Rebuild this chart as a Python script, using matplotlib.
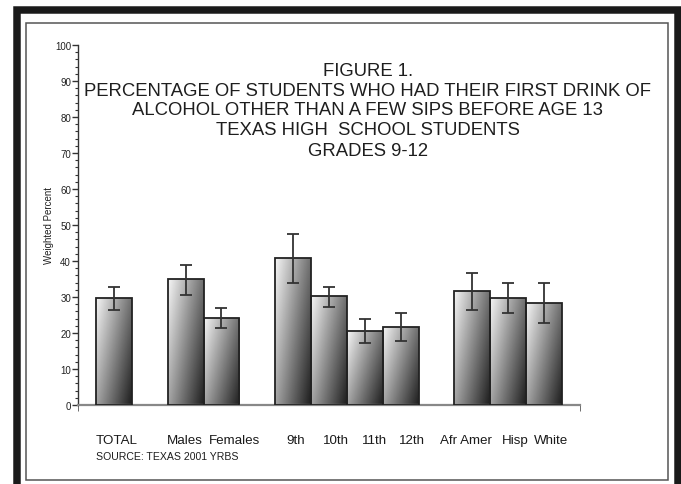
import numpy as np
import matplotlib
matplotlib.use('Agg')
import matplotlib.pyplot as plt
from matplotlib.patches import Rectangle
from matplotlib.ticker import MultipleLocator

plt.rcParams['font.family'] = ['Liberation Sans', 'DejaVu Sans']

# Weighted percent with 95% confidence limits
groups = ['TOTAL', 'Males', 'Females', '9th', '10th', '11th', '12th',
          'Afr Amer', 'Hisp', 'White']
percent = [29.6, 34.9, 24.2, 40.8, 30.2, 20.5, 21.7, 31.6, 29.7, 28.3]
lower = [26.4, 30.6, 21.3, 34.0, 27.1, 17.1, 17.9, 26.5, 25.6, 22.9]
upper = [32.9, 39.0, 27.0, 47.6, 32.9, 23.9, 25.5, 36.6, 33.9, 33.9]

title_lines = ['FIGURE 1.',
               'PERCENTAGE OF STUDENTS WHO HAD THEIR FIRST DRINK OF',
               'ALCOHOL OTHER THAN A FEW SIPS BEFORE AGE 13',
               'TEXAS HIGH  SCHOOL STUDENTS',
               'GRADES 9-12']

# bar slots, with an empty slot between each group block
pos = np.array([1, 3, 4, 6, 7, 8, 9, 11, 12, 13])
label_shift = [0.07, -0.03, 0.37, 0.06, 0.2, 0.26, 0.3, -0.17, 0.2, 0.19]

W, H = 681, 485
fig = plt.figure(figsize=(W / 100, H / 100), dpi=100)


def px(x0, y0, x1, y1):
    """pixel box (top-left origin) -> figure fraction rect"""
    return [x0 / W, 1 - y1 / H, (x1 - x0) / W, (y1 - y0) / H]


ax = fig.add_axes(px(78, 46, 580, 406))
ax.set_xlim(0, 14)
ax.set_ylim(0, 100)

# diagonal grey shading for the bars
gy, gx = np.mgrid[0:1:60j, 0:1:60j]
shade = 0.62 * gx + 0.38 * gy
light, dark = 0.96, 0.12
grad = light - (light - dark) * shade

for x, h in zip(pos, percent):
    rect = Rectangle((x - 0.5, 0), 1.0, h, facecolor='none',
                     edgecolor='#222222', linewidth=1.3, zorder=3)
    ax.add_patch(rect)
    im = ax.imshow(grad, cmap='gray', vmin=0, vmax=1, aspect='auto',
                   extent=[x - 0.5, x + 0.5, 0, h], origin='upper',
                   interpolation='bilinear', zorder=2)
    im.set_clip_path(rect)

err = [np.array(percent) - np.array(lower), np.array(upper) - np.array(percent)]
ax.errorbar(pos, percent, yerr=err, fmt='none', ecolor='#333333',
            elinewidth=1.3, capsize=4, capthick=1.3, zorder=4)

ax.set_xticks(pos + np.array(label_shift))
ax.set_xticklabels(groups, fontsize=9.6, color='#1a1a1a')
ax.tick_params(axis='x', length=0, pad=21)
ax.set_xticks([0, 14], minor=True)
ax.tick_params(axis='x', which='minor', length=4, color='#555555')

ax.yaxis.set_major_locator(MultipleLocator(10))
ax.yaxis.set_minor_locator(MultipleLocator(2))
ax.tick_params(axis='y', which='major', length=4, width=1, color='#333333',
               labelsize=7, labelcolor='#222222', pad=1)
ax.tick_params(axis='y', which='minor', length=2.5, width=0.8, color='#333333')
ax.set_ylabel('Weighted Percent', fontsize=7, color='#222222', labelpad=0.5)

for s in ['top', 'right']:
    ax.spines[s].set_visible(False)
ax.spines['left'].set_color('#333333')
ax.spines['left'].set_linewidth(1.0)
ax.spines['bottom'].set_color('#888888')
ax.spines['bottom'].set_linewidth(1.6)
ax.patch.set_alpha(0)

for i, line in enumerate(title_lines):
    fig.text(368 / W, 1 - (71 + 20 * i) / H, line, ha='center', va='center',
             fontsize=13.3, color='#1e1e1e')

fig.text(96 / W, 1 - 457 / H, 'SOURCE: TEXAS 2001 YRBS', ha='left',
         va='center', fontsize=7.6, color='#1e1e1e')

# page frames
inner = px(26, 24, 668, 481)
fig.patches.append(Rectangle((inner[0], inner[1]), inner[2], inner[3],
                             transform=fig.transFigure, fill=False,
                             edgecolor='#555555', linewidth=1.1))
outer = px(16.5, 11, 677.5, 500)
fig.patches.append(Rectangle((outer[0], outer[1]), outer[2], outer[3],
                             transform=fig.transFigure, fill=False,
                             edgecolor='#1a1a1a', linewidth=5.4))

fig.savefig('out.png', dpi=100, facecolor='white')
